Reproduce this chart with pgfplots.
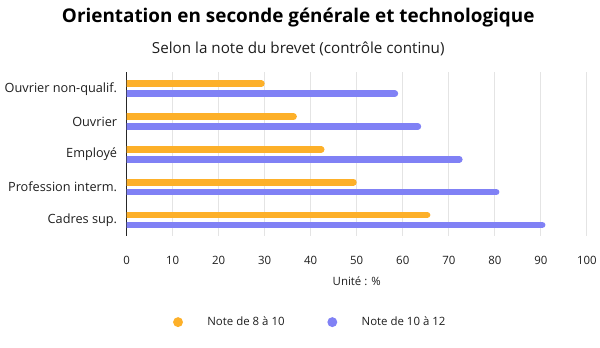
\documentclass[border=0pt]{standalone}
\usepackage{pgfplots}
\pgfplotsset{compat=1.18}
\usepackage{fontspec}
\setmainfont{Open Sans}
\definecolor{orangeC}{RGB}{253,176,41}
\definecolor{blueC}{RGB}{128,129,245}
\definecolor{gridC}{RGB}{228,228,228}
\definecolor{txtC}{RGB}{30,30,30}
\pgfplotsset{
  dotlegend/.style={legend image code/.code={\path[draw=none,fill=none] (-5bp,-5bp) rectangle (27.5bp,5bp); \fill[draw=none] (0bp,0bp) circle (5bp);}},
}
\begin{document}
\begin{tikzpicture}[x=1bp,y=1bp]
\path (0,0) rectangle (600,350);
\node[font=\fontsize{19bp}{22bp}\selectfont\bfseries, text=black] at (300,332) {Orientation en seconde générale et technologique};
\node[font=\fontsize{15.3bp}{18bp}\selectfont, text=txtC] at (300,301) {Selon la note du brevet (contrôle continu)};
\begin{axis}[
  at={(127.3bp,112.3bp)}, anchor=south west,
  scale only axis, width=463bp, height=165bp,
  xmin=0, xmax=100, ymin=-0.5, ymax=4.5,
  y dir=reverse,
  axis y line*=left, axis x line*=bottom,
  x axis line style={draw=none},
  y axis line style={draw=black!85, line width=1.2bp},
  xtick={0,10,...,100}, ytick={0,1,2,3,4},
  yticklabels={Ouvrier non-qualif.,Ouvrier,Employé,Profession interm.,Cadres sup.},
  major tick length=0pt,
  xmajorgrids, major grid style={draw=gridC, line width=1.1bp},
  /pgf/number format/assume math mode=true,
  tick label style={font=\fontsize{11.5bp}{14bp}\selectfont, text=txtC},
  xticklabel style={anchor=center, yshift=-24bp},
  yticklabel style={anchor=east, xshift=-6bp, font=\fontsize{12.8bp}{15bp}\selectfont},
  xlabel={Unité : \%},
  x label style={at={(axis description cs:0.5,0)}, anchor=center, yshift=-45.5bp, font=\fontsize{11.5bp}{14bp}\selectfont, text=txtC},
  legend columns=2,
  legend style={at={(0.399,-0.523)}, anchor=center, draw=none, fill=none,
    font=\fontsize{11.5bp}{14bp}\selectfont, text=txtC,
    /tikz/every even column/.append style={column sep=41bp}},
]
\addplot+[xcomb, color=orangeC, line width=6.7bp, line cap=round, mark=none, xshift=-3.35bp, dotlegend] coordinates {
  (30,-0.15) (37,0.85) (43,1.85) (50,2.85) (66,3.85)
};
\addlegendentry{Note de 8 à 10}
\addplot+[xcomb, color=blueC, line width=6.7bp, line cap=round, mark=none, xshift=-3.35bp, dotlegend] coordinates {
  (59,0.15) (64,1.15) (73,2.15) (81,3.15) (91,4.15)
};
\addlegendentry{Note de 10 à 12}
\end{axis}
\end{tikzpicture}
\end{document}
